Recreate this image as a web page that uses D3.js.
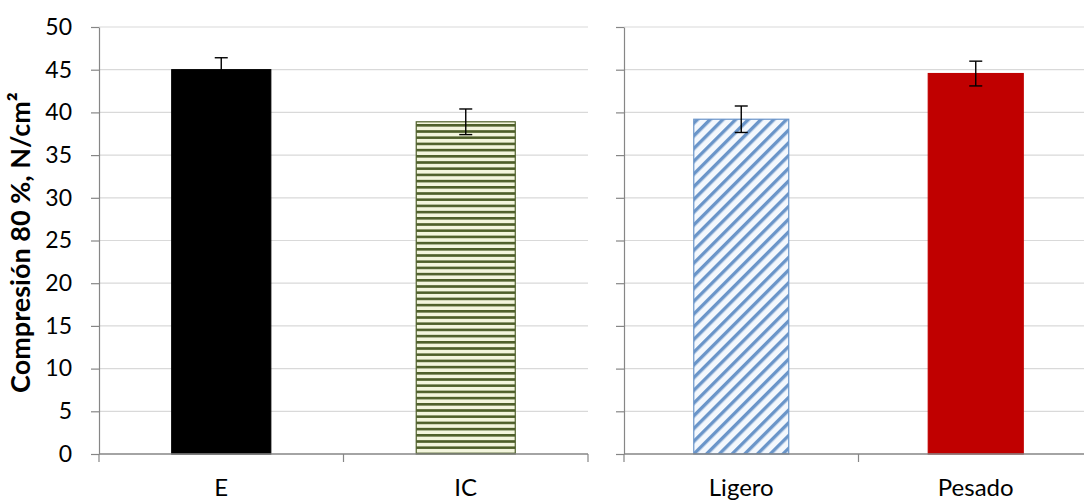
<!DOCTYPE html>
<html>
<head>
<meta charset="utf-8">
<script src="https://cdn.jsdelivr.net/npm/d3@7"></script>
<style>
  html, body { margin: 0; padding: 0; background: #fff; }
  svg { display: block; }
  text { font-family: Lato, "Open Sans", sans-serif; fill: #000; }
</style>
</head>
<body>
<svg id="chart" width="1084" height="501"></svg>
<script>
// Compression at 80 % (N/cm²), two groups of two samples
const leftCategories = ["E", "IC"];
const leftValues = [45.0, 38.9];
const leftErrors = [1.4, 1.5];

const rightCategories = ["Ligero", "Pesado"];
const rightValues = [39.2, 44.55];
const rightErrors = [1.55, 1.45];

const yTicks = [0, 5, 10, 15, 20, 25, 30, 35, 40, 45, 50];
const yTitle = "Compresión 80 %, N/cm²";

const svg = d3.select("#chart");

// Fill patterns for the striped bars
const defs = svg.append("defs");
const hStripe = defs.append("pattern")
  .attr("id", "hstripe").attr("patternUnits", "userSpaceOnUse")
  .attr("width", 8).attr("height", 6.2);
hStripe.append("rect").attr("width", 8).attr("height", 6.2).attr("fill", "#f3f5dd");
hStripe.append("rect").attr("y", 0).attr("width", 8).attr("height", 2.6).attr("fill", "#4e5f2a");

const dStripe = defs.append("pattern")
  .attr("id", "dstripe").attr("patternUnits", "userSpaceOnUse")
  .attr("width", 9).attr("height", 9)
  .attr("patternTransform", "rotate(45)");
dStripe.append("rect").attr("width", 9).attr("height", 9).attr("fill", "#f4f8fd");
dStripe.append("rect").attr("x", 0).attr("width", 3.4).attr("height", 9).attr("fill", "#6a95c9");

const y = d3.scaleLinear().domain([0, 50]).range([454, 27]);

const fills = {
  "E": { fill: "#000000", stroke: "#000000" },
  "IC": { fill: "url(#hstripe)", stroke: "#4e5f2a" },
  "Ligero": { fill: "url(#dstripe)", stroke: "#6a95c9" },
  "Pesado": { fill: "#c00000", stroke: "#c00000" }
};

function panel(x0, x1, cats, vals, errs, showLabels) {
  const g = svg.append("g");
  const x = d3.scaleBand().domain(cats).range([x0, x1]).paddingInner(0).paddingOuter(0);

  // horizontal gridlines
  g.selectAll("line.grid").data(yTicks.filter(t => t > 0)).join("line")
    .attr("class", "grid")
    .attr("x1", x0).attr("x2", x1)
    .attr("y1", d => y(d)).attr("y2", d => y(d))
    .attr("stroke", "#d9d9d9").attr("stroke-width", 1.2);

  // bars
  const bw = x.bandwidth() * 0.405;
  g.selectAll("rect.bar").data(cats).join("rect")
    .attr("class", "bar")
    .attr("x", d => x(d) + x.bandwidth() / 2 - bw / 2)
    .attr("width", bw)
    .attr("y", (d, i) => y(vals[i]))
    .attr("height", (d, i) => y(0) - y(vals[i]))
    .attr("fill", d => fills[d].fill)
    .attr("stroke", d => fills[d].stroke)
    .attr("stroke-width", 1.2);

  // error bars
  const cap = 6.5;
  cats.forEach((c, i) => {
    const cx = x(c) + x.bandwidth() / 2;
    const top = y(vals[i] + errs[i]), bot = y(vals[i] - errs[i]);
    g.append("line").attr("x1", cx).attr("x2", cx).attr("y1", top).attr("y2", bot)
      .attr("stroke", "#000").attr("stroke-width", 1.4);
    [top, bot].forEach(yy => g.append("line")
      .attr("x1", cx - cap).attr("x2", cx + cap).attr("y1", yy).attr("y2", yy)
      .attr("stroke", "#000").attr("stroke-width", 1.4));
  });

  // y axis line and ticks
  const yAxis = d3.axisLeft(y).tickValues(yTicks).tickSize(8).tickSizeOuter(0)
    .tickFormat(showLabels ? d3.format("d") : "");
  const ya = g.append("g").attr("transform", `translate(${x0},0)`).call(yAxis);
  ya.attr("font-size", null).attr("font-family", null);
  ya.select(".domain").attr("stroke", "#868686").attr("stroke-width", 1.2);
  ya.selectAll(".tick line").attr("stroke", "#868686").attr("stroke-width", 1.2);
  ya.selectAll(".tick text").attr("x", -27)
    .style("font-size", "23px")
    .style("font-family", "Lato, 'Open Sans', sans-serif").attr("fill", "#000");

  // x axis with category separator ticks
  const xa = g.append("g");
  xa.append("line").attr("x1", x0).attr("x2", x1).attr("y1", y(0)).attr("y2", y(0))
    .attr("stroke", "#868686").attr("stroke-width", 1.4);
  const bounds = [x0].concat(cats.map(c => x(c) + x.bandwidth()));
  xa.selectAll("line.sep").data(bounds).join("line").attr("class", "sep")
    .attr("x1", d => d).attr("x2", d => d).attr("y1", y(0)).attr("y2", y(0) + 8)
    .attr("stroke", "#868686").attr("stroke-width", 1.2);
  xa.selectAll("text").data(cats).join("text")
    .attr("x", d => x(d) + x.bandwidth() / 2)
    .attr("y", 496)
    .attr("text-anchor", "middle")
    .style("font-size", "24px")
    .text(d => d);
}

panel(99, 588, leftCategories, leftValues, leftErrors, true);
panel(624, 1093, rightCategories, rightValues, rightErrors, false);

// y axis title
svg.append("text")
  .attr("transform", `translate(30,${y(25) + 2}) rotate(-90)`)
  .attr("text-anchor", "middle")
  .style("font-size", "27px")
  .attr("font-weight", "bold")
  .text(yTitle);
</script>
</body>
</html>
